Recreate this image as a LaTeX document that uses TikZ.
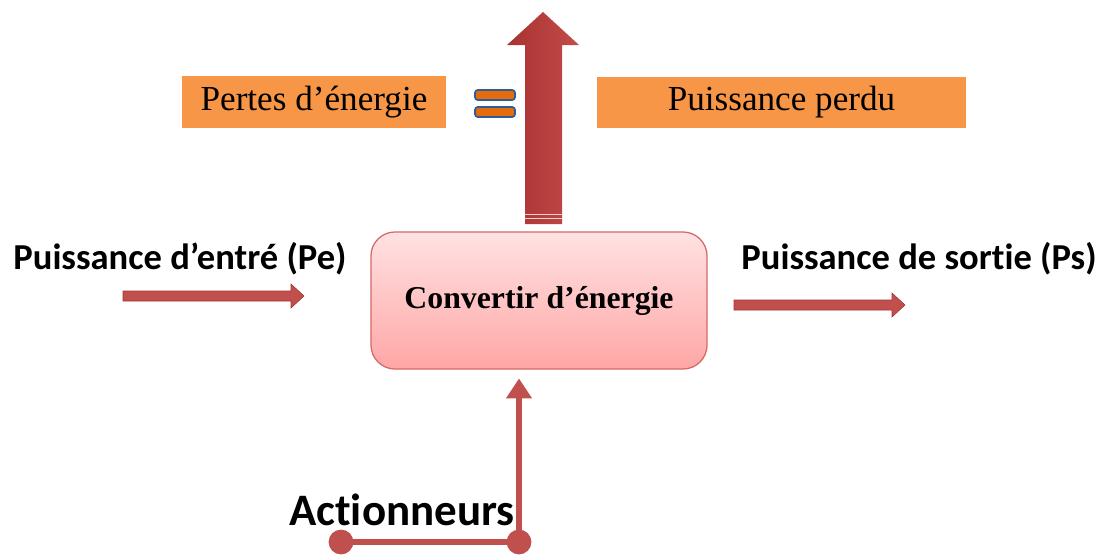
\documentclass[tikz,border=0pt]{standalone}
\usepackage{fontspec}
\setmainfont{Liberation Serif}
\newfontfamily\calib[Ligatures={NoCommon}]{Carlito}
\usetikzlibrary{arrows.meta,calc}
\definecolor{arrowred}{HTML}{C0504D}
\definecolor{darkred}{HTML}{A83232}
\definecolor{orangebox}{HTML}{F79646}
\definecolor{eqorange}{HTML}{E46C0A}
\definecolor{eqblue}{HTML}{2E5C9A}
\definecolor{boxtop}{HTML}{FFE2E2}
\definecolor{boxbot}{HTML}{FFA6A6}
\definecolor{boxline}{HTML}{D46A68}
\tikzset{
  px/.style={x=0.025cm,y=-0.025cm},
  orangelbl/.style={fill=orangebox, minimum height=1.275cm, inner sep=0pt, font=\fontsize{25}{30}\selectfont},
  sanslbl/.style={font=\calib\bfseries\fontsize{26}{30}\selectfont, inner sep=0pt},
  flatarrow/.style={fill=arrowred, draw=darkred, line width=0.4pt},
  eqbar/.style={fill=eqorange, draw=eqblue, line width=1.2pt, rounded corners=2pt},
  wire/.style={draw=arrowred, line width=3.6pt},
  dot/.style={fill=arrowred, circle, minimum size=0.62cm, inner sep=0pt}
}
\begin{document}
\begin{tikzpicture}[px]
\useasboundingbox (0,0) rectangle (1106,554);
% big up arrow
\shade[left color=darkred, right color=arrowred!95!red]
  (525,224) -- (525,45) -- (507,45) -- (543,12) -- (579,45) -- (562,45) -- (562,224) -- cycle;
\draw[white!75!arrowred, line width=0.5pt] (525,214) -- (562,214) (525,218) -- (562,218);
% orange labels
\node[orangelbl, minimum width=6.6cm] (pertes) at (314,102) {Pertes d’énergie};
\node[orangelbl, minimum width=9.225cm] (perdu) at (781.5,102.5) {Puissance perdu};
% equals sign
\draw[eqbar] (475,90) rectangle (515,100);
\draw[eqbar] (475,107) rectangle (515,117);
% main box
\node[draw=boxline, line width=0.9pt, rounded corners=0.6cm, top color=boxtop, bottom color=boxbot,
      minimum width=8.4cm, minimum height=3.425cm, font=\bfseries\fontsize{22.6}{27}\selectfont] (conv) at (539,300.5) {Convertir d’énergie};
% left / right labels
\node[sanslbl] (pe) at (180,259) {Puissance d’entré (Pe)};
\node[sanslbl] (ps) at (919,259) {Puissance de sortie (Ps)};
% flat arrows
\fill[flatarrow] (123,291) -- (291,291) -- (291,284) -- (304,296) -- (291,308) -- (291,301) -- (123,301) -- cycle;
\fill[flatarrow] (734,300) -- (892,300) -- (892,293) -- (905,305) -- (892,317) -- (892,310) -- (734,310) -- cycle;
% actionneurs
\node[sanslbl, font=\calib\bfseries\fontsize{32}{36}\selectfont] (act) at (402,510) {Actionneurs};
\node[dot] (d1) at (341,542) {};
\node[dot] (d2) at (519,542) {};
\draw[wire] (d1.center) -- (d2.center);
\draw[wire, shorten >=0.22cm, -{Triangle[length=0.5cm,width=0.62cm]}] (d2.center) -- (conv.south -| d2);
\end{tikzpicture}
\end{document}
